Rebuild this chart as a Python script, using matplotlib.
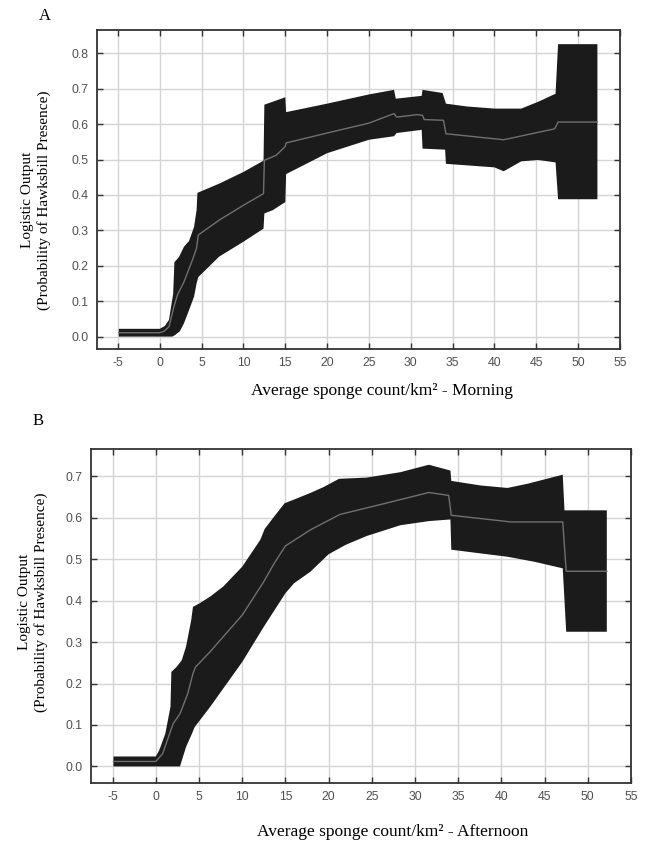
import numpy as np
import matplotlib
matplotlib.use("Agg")
import matplotlib.pyplot as plt

# ---- panel A (morning): response curve with confidence band ----
a_up_x = [-4.9, 0.0, 0.6, 1.1, 1.6, 1.75, 2.3, 2.9, 3.5, 4.1, 4.4, 4.5, 7.1, 10.0, 12.4, 12.5, 15.0, 15.1,
          20.0, 25.0, 28.0, 28.2, 31.3, 31.4, 33.8, 34.2, 36.7, 40.0, 43.2, 45.2, 47.3, 47.6, 52.3]
a_up_y = [0.022, 0.022, 0.030, 0.047, 0.120, 0.210, 0.225, 0.254, 0.270, 0.310, 0.357, 0.406, 0.432, 0.465,
          0.497, 0.655, 0.676, 0.634, 0.658, 0.684, 0.697, 0.672, 0.680, 0.697, 0.688, 0.658, 0.650, 0.644,
          0.644, 0.663, 0.686, 0.826, 0.826]
a_lo_x = [-4.9, 1.5, 1.8, 2.4, 2.9, 3.5, 4.1, 4.4, 4.6, 7.1, 10.0, 12.4, 12.5, 13.5, 15.0, 15.1, 20.0,
          25.0, 28.0, 28.3, 31.3, 31.4, 34.1, 34.2, 40.0, 41.1, 43.2, 45.2, 47.3, 47.6, 52.3]
a_lo_y = [0.0, 0.0, 0.004, 0.015, 0.038, 0.075, 0.113, 0.150, 0.168, 0.226, 0.268, 0.305, 0.348, 0.357,
          0.380, 0.459, 0.518, 0.556, 0.566, 0.575, 0.584, 0.531, 0.528, 0.488, 0.478, 0.467, 0.495, 0.499,
          0.492, 0.388, 0.388]
a_mean_x = [-4.9, 0.0, 0.5, 1.1, 1.7, 2.1, 2.9, 3.9, 4.4, 4.6, 7.1, 10.0, 12.4, 12.5, 13.9, 15.0, 15.1,
            20.0, 25.0, 28.0, 28.3, 30.8, 31.4, 31.6, 33.9, 34.2, 41.1, 47.2, 47.6, 52.3]
a_mean_y = [0.011, 0.011, 0.015, 0.028, 0.085, 0.117, 0.155, 0.216, 0.250, 0.287, 0.329, 0.371, 0.404,
            0.498, 0.512, 0.537, 0.547, 0.575, 0.603, 0.630, 0.620, 0.627, 0.625, 0.613, 0.611, 0.573,
            0.556, 0.587, 0.606, 0.606]

# ---- panel B (afternoon) ----
b_up_x = [-4.9, 0.0, 0.4, 1.1, 1.7, 1.8, 2.4, 3.0, 3.5, 4.1, 4.3, 5.1, 6.3, 7.8, 10.0, 12.1, 12.6, 13.7,
          14.9, 16.0, 17.9, 19.4, 21.2, 24.4, 28.3, 31.6, 34.1, 34.2, 37.6, 40.7, 43.0, 47.1, 47.3, 52.2]
b_up_y = [0.024, 0.024, 0.039, 0.079, 0.144, 0.228, 0.240, 0.256, 0.289, 0.353, 0.385, 0.394, 0.410,
          0.434, 0.482, 0.547, 0.573, 0.603, 0.635, 0.644, 0.660, 0.674, 0.694, 0.697, 0.710, 0.728,
          0.714, 0.689, 0.678, 0.672, 0.682, 0.704, 0.618, 0.618]
b_lo_x = [-4.9, 2.8, 3.5, 4.1, 4.5, 6.3, 10.0, 12.5, 15.0, 16.0, 17.9, 20.0, 22.0, 24.4, 28.3, 31.6,
          34.1, 34.2, 37.6, 40.7, 43.8, 47.1, 47.5, 52.2]
b_lo_y = [0.0, 0.0, 0.047, 0.075, 0.095, 0.144, 0.252, 0.337, 0.418, 0.442, 0.470, 0.512, 0.535, 0.556,
          0.582, 0.592, 0.596, 0.523, 0.514, 0.506, 0.494, 0.478, 0.325, 0.325]
b_mean_x = [-4.9, 0.0, 0.8, 1.6, 2.0, 2.8, 3.7, 4.3, 4.6, 6.3, 7.8, 10.0, 12.5, 13.7, 15.0, 17.9, 21.3,
            26.4, 31.6, 33.9, 34.2, 41.1, 47.1, 47.5, 52.2]
b_mean_y = [0.012, 0.012, 0.031, 0.079, 0.103, 0.127, 0.176, 0.224, 0.240, 0.277, 0.313, 0.365, 0.446,
            0.490, 0.532, 0.571, 0.608, 0.634, 0.661, 0.654, 0.606, 0.590, 0.590, 0.471, 0.471]

x_ticks = list(range(-5, 56, 5))
a_yticks = [0.0, 0.1, 0.2, 0.3, 0.4, 0.5, 0.6, 0.7, 0.8]
b_yticks = [0.0, 0.1, 0.2, 0.3, 0.4, 0.5, 0.6, 0.7]

SERIF = "Liberation Serif"
W, H = 648, 850
fig = plt.figure(figsize=(W / 100, H / 100), dpi=100)

def px_axes(l, t, r, b):
    return fig.add_axes([l / W, 1 - b / H, (r - l) / W, (b - t) / H])

def panel(ax, ux, uy, lx, ly, mx, my, yticks, ylim):
    ax.fill(np.r_[ux, lx[::-1]], np.r_[uy, ly[::-1]], color="#1b1b1b", lw=0, zorder=2)
    ax.plot(mx, my, color="#707070", lw=1.0, zorder=3)
    ax.set_xlim(-7.5, 55)
    ax.set_ylim(*ylim)
    ax.set_xticks(x_ticks)
    ax.set_xticklabels([str(v) for v in x_ticks])
    ax.set_yticks(yticks)
    ax.set_yticklabels([f"{v:.1f}" for v in yticks])
    ax.grid(True, color="#d4d4d4", lw=1.0, zorder=0)
    ax.set_axisbelow(True)
    ax.tick_params(direction="in", top=True, right=True, length=4, width=1, color="#333333",
                   labelcolor="#505050", labelsize=8.8, pad=6)
    for lab in ax.get_xticklabels() + ax.get_yticklabels():
        lab.set_family("Liberation Sans")
    for s in ax.spines.values():
        s.set_color("#333333")
        s.set_linewidth(1.3)

axA = px_axes(97, 30, 620, 349)
panel(axA, np.array(a_up_x), np.array(a_up_y), np.array(a_lo_x), np.array(a_lo_y),
      a_mean_x, a_mean_y, a_yticks, (-0.035, 0.866))

axB = px_axes(91, 449, 631, 783)
panel(axB, np.array(b_up_x), np.array(b_up_y), np.array(b_lo_x), np.array(b_lo_y),
      b_mean_x, b_mean_y, b_yticks, (-0.04, 0.766))

ylab = "Logistic Output\n(Probability of Hawksbill Presence)"
fig.text(45 / W, 1 - 16 / H, "A", family=SERIF, fontsize=12, ha="center", va="center")
fig.text(38 / W, 1 - 421 / H, "B", family=SERIF, fontsize=12, ha="center", va="center")
fig.text(36 / W, 1 - 200 / H, ylab, family=SERIF, fontsize=11, rotation=90,
         ha="center", va="center", multialignment="center", linespacing=1.2)
fig.text(33 / W, 1 - 602 / H, ylab, family=SERIF, fontsize=11, rotation=90,
         ha="center", va="center", multialignment="center", linespacing=1.2)
fig.text(382 / W, 1 - 391 / H, "Average sponge count/km\u00b2 - Morning", family=SERIF,
         fontsize=12.5, ha="center", va="center")
fig.text(393 / W, 1 - 832 / H, "Average sponge count/km\u00b2 - Afternoon", family=SERIF,
         fontsize=12.5, ha="center", va="center")

fig.savefig("out.png", dpi=100, facecolor="white")
